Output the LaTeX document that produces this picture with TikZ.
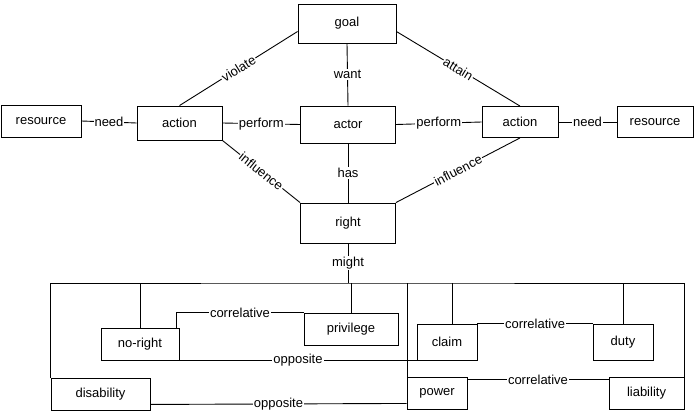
\documentclass[tikz,border=0pt]{standalone}
\usepackage{fontspec}
\setmainfont{Liberation Sans}
\usepackage{tikz}
\definecolor{black}{cmyk}{0,0,0.0,1.0}

\begin{document}
\begin{tikzpicture}[x=1pt,y=-1pt,line width=0.9pt]
    \tikzset{%
      box/.style={rectangle, draw, fill=white, inner sep=0pt,
        font=\fontsize{13}{15}\selectfont},
      lbl/.style={fill=white, inner sep=1pt,
        font=\fontsize{13}{15}\selectfont},
      slbl/.style={lbl, sloped},
    }
    \useasboundingbox (0,0) rectangle (699,414);

    \node[box, minimum width=98pt, minimum height=39pt] (goal) at (347,23.5) {goal};
    \node[box, minimum width=95pt, minimum height=37pt] (actor) at (348,124.5) {actor};
    \node[box, minimum width=95pt, minimum height=40pt] (right) at (348,223) {right};

    \node[box, minimum width=85pt, minimum height=34pt] (actL) at (179.5,123) {action};
    \node[box, minimum width=80pt, minimum height=32pt] (resL) at (41,121) {resource};
    \node[box, minimum width=76pt, minimum height=31pt] (actR) at (520,122) {action};
    \node[box, minimum width=76pt, minimum height=31pt] (resR) at (655,122) {resource};

    \draw (goal.south) -- node[lbl] {want} (actor.north);
    \draw ([yshift=-8pt]goal.west) -- node[slbl] {violate} (actL.north);
    \draw ([yshift=-8pt]goal.east) -- node[slbl] {attain} (actR.north);
    \draw (resL.east) -- node[lbl] {need} (actL.west);
    \draw (actR.east) -- node[lbl] {need} (resR.west);
    \draw (actL.east) -- node[lbl] {perform} (actor.west);
    \draw (actor.east) -- node[lbl] {perform} (actR.west);
    \draw (actor.south) -- node[lbl] {has} (right.north);
    \draw (actL.south east) -- node[slbl] {influence} (right.north west);
    \draw (actR.south) -- node[slbl] {influence} (right.north east);

    % Hohfeld group
    \coordinate (ftop) at (348,283);
    \node[box, minimum width=78pt, minimum height=32pt] (noright) at (140,344) {no-right};
    \node[box, minimum width=94pt, minimum height=32pt] (privilege) at (351,329) {privilege};
    \node[box, minimum width=60pt, minimum height=36pt] (claim) at (447,342) {claim};
    \node[box, minimum width=60pt, minimum height=36pt] (duty) at (623,342) {duty};
    \node[box, minimum width=99pt, minimum height=32pt] (disability) at (100.5,394) {disability};
    \node[box, minimum width=60pt, minimum height=32pt] (power) at (437,393) {power};
    \node[box, minimum width=75pt, minimum height=32pt] (liability) at (646.5,393) {liability};

    \draw (disability.north west) |- (ftop) -| (liability.north east);
    \draw (right.south) -- node[lbl] {might} (right.south |- ftop);
    \draw (privilege.north) -- (privilege.north |- ftop);
    \draw (noright.north) -- (noright.north |- ftop);
    \draw ([xshift=5pt]claim.north) -- ([xshift=5pt]claim.north |- ftop);
    \draw (duty.north) -- (duty.north |- ftop);
    \draw ([xshift=1pt]power.north west) -- ([xshift=1pt]power.north west |- ftop);

    \draw ([xshift=-3pt]noright.north east) |- node[lbl, pos=0.75] {correlative} (privilege.north west);
    \draw (noright.south east) -- node[lbl] {opposite} (claim.south west);
    \draw (claim.north east) -- node[lbl] {correlative} (duty.north west);
    \draw ([yshift=-3pt]power.north east) -- node[lbl] {correlative} ([yshift=-3pt]liability.north west);
    \draw ([yshift=6pt]disability.south east) -- node[lbl] {opposite} ([yshift=6pt]power.south west);
  \end{tikzpicture}
\end{document}
